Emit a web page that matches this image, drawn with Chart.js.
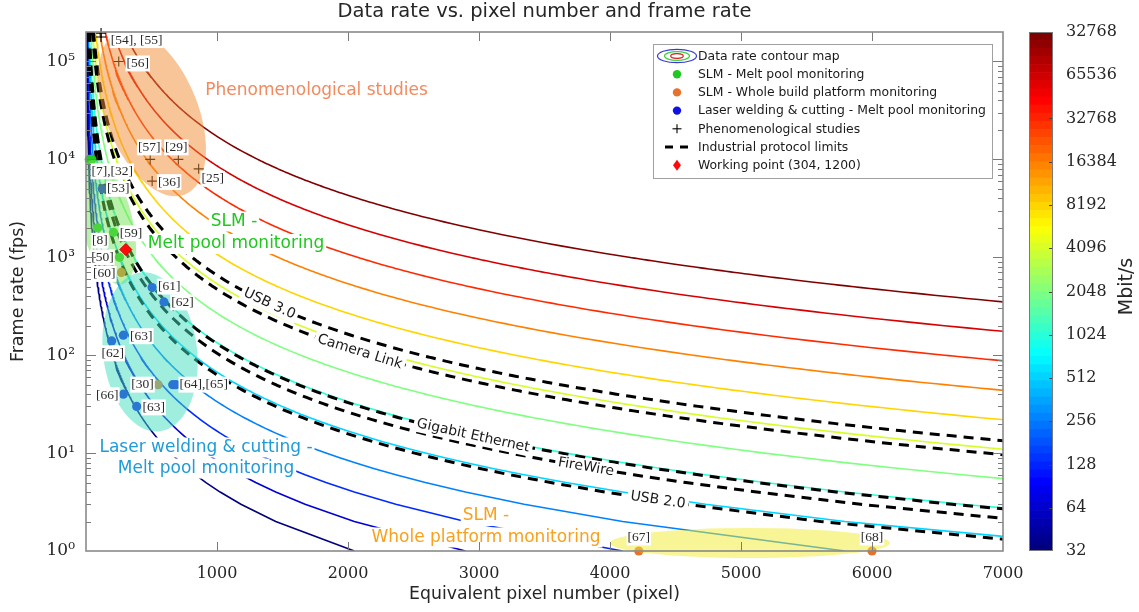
<!DOCTYPE html>
<html lang="en">
<head>
<meta charset="utf-8">
<title>Data rate vs. pixel number and frame rate</title>
<script src="https://cdn.jsdelivr.net/npm/chart.js"></script>
<style>
  html, body { margin: 0; padding: 0; background: #ffffff; }
  #figure { position: relative; width: 1139px; height: 612px; overflow: hidden; }
  #rateChart { position: absolute; left: 0; top: 0; }
  #rateBar { position: absolute; left: 1010px; top: 0; }
</style>
</head>
<body>
<div id="figure">
  <canvas id="rateChart" width="1139" height="612"></canvas>
  <canvas id="rateBar" width="129" height="612"></canvas>
</div>
<script>
// ---------------------------------------------------------------------------
// Data
// ---------------------------------------------------------------------------

// Contour levels of the data-rate map (Mbit/s)
const contourLevels = [32, 64, 128, 256, 512, 1024, 2048, 4096, 8192, 16384, 32768, 65536, 131072];
// Colour-bar tick labels, bottom to top
const colorbarLabels = ['32', '64', '128', '256', '512', '1024', '2048', '4096', '8192', '16384', '32768', '65536', '32768'];

// Industrial interface limits (Mbit/s)
const protocolNames = ['USB 3.0', 'Camera Link', 'Gigabit Ethernet', 'FireWire', 'USB 2.0'];
const protocolRates = [5000, 3600, 1000, 800, 480];

// SLM - melt pool monitoring
const slmMeltPixels = [25, 45, 90, 210, 255];
const slmMeltFps    = [10000, 10000, 2000, 1800, 1000];
const slmMeltRefs   = ['[7],[32]', '', '[8]', '[59]', '[50]'];

// SLM - whole build platform monitoring
const slmPlatformPixels = [270, 550, 4220, 6000];
const slmPlatformFps    = [700, 50, 1, 1];
const slmPlatformRefs   = ['[60]', '[30]', '[67]', '[68]'];

// Laser welding & cutting - melt pool monitoring
const weldingPixels = [124, 505, 595, 285, 196, 662, 687, 285, 387];
const weldingFps    = [5000, 490, 350, 160, 140, 50, 50, 40, 30];
const weldingRefs   = ['[53]', '[61]', '[62]', '[63]', '[62]', '[64],[65]', '', '[66]', '[63]'];

// Phenomenological studies
const phenoPixels = [115, 115, 250, 490, 705, 505, 860];
const phenoFps    = [195000, 178000, 100000, 10000, 10000, 6000, 8000];
const phenoRefs   = ['[54], [55]', '', '[56]', '[57]', '[29]', '[36]', '[25]'];

// Working point
const workingPixels = [304];
const workingFps    = [1200];

// Axis ticks
const xTickValues = [1000, 2000, 3000, 4000, 5000, 6000, 7000];
const yDecades = [0, 1, 2, 3, 4, 5];

// ---------------------------------------------------------------------------
// Data-rate relation: rate [Mbit/s] = N^2 * fps * bit depth / 2^20
// ---------------------------------------------------------------------------
const MBIT = 1048576;
const BIT_DEPTH = 8;
const pixelsAt = (rate, fps) => Math.sqrt(rate * MBIT / (BIT_DEPTH * fps));
const fpsAt = (rate, n) => rate * MBIT / (BIT_DEPTH * n * n);

// frame-rate rows the contours are traced on
const frameRows = [];
(function () {
  let f = 1;
  for (const [end, step] of [[100, 1], [1000, 10], [10000, 100], [100000, 1000], [300000, 10000]]) {
    for (; f < end; f += step) frameRows.push(f);
  }
  frameRows.push(300000);
  frameRows.reverse();
})();

// minor + major ticks of the log axis
const yTickValues = [];
yDecades.forEach(d => {
  const base = Math.pow(10, d);
  if (d === yDecades[yDecades.length - 1]) { yTickValues.push(base); return; }
  for (let m = 1; m <= 9; m++) yTickValues.push(m * base);
});

// ---------------------------------------------------------------------------
// Colours and fonts
// ---------------------------------------------------------------------------
function jet(t) {
  const c = v => Math.round(255 * Math.min(1, Math.max(0, v)));
  return `rgb(${c(1.5 - Math.abs(4 * t - 3))},${c(1.5 - Math.abs(4 * t - 2))},${c(1.5 - Math.abs(4 * t - 1))})`;
}
const C_SLM = '#22c822';
const C_PLATFORM = '#e8722c';
const C_WELD = '#1010e8';
const C_WORK = '#ff0a0a';
const TEXT = '#262626';
const SANS = '"DejaVu Sans", Verdana, sans-serif';
const SERIF = '"DejaVu Serif", serif';
const TAG_FONT = '13.5px "Liberation Serif", "Times New Roman", serif';

Chart.defaults.font.family = SANS;
Chart.defaults.color = TEXT;

const supDigits = ['⁰', '¹', '²', '³', '⁴', '⁵', '⁶', '⁷', '⁸', '⁹'];
function powerLabel(v) {
  const e = Math.log10(v);
  if (Math.abs(e - Math.round(e)) > 1e-9) return '';
  return '10' + String(Math.round(e)).split('').map(ch => supDigits[+ch]).join('');
}
const isPower10 = v => powerLabel(v) !== '';

// ---------------------------------------------------------------------------
// Datasets
// ---------------------------------------------------------------------------
const datasets = [];

contourLevels.forEach((rate, i) => {
  datasets.push({
    label: 'Data rate contour map',
    data: frameRows.map(f => ({ x: pixelsAt(rate, f), y: f })),
    showLine: true,
    borderColor: jet(i / (contourLevels.length - 1)),
    borderWidth: 1.6,
    pointRadius: 0,
    pointHoverRadius: 0,
    order: 10
  });
});

protocolRates.forEach((rate, i) => {
  datasets.push({
    label: protocolNames[i],
    data: frameRows.map(f => ({ x: pixelsAt(rate, f), y: f })),
    showLine: true,
    borderColor: '#000000',
    borderWidth: 3,
    borderDash: [10, 7],
    pointRadius: 0,
    pointHoverRadius: 0,
    order: 9
  });
});

function markerSet(label, xs, ys, style) {
  return Object.assign({
    label,
    data: xs.map((x, i) => ({ x, y: ys[i] })),
    showLine: false,
    clip: false,
    order: 5
  }, style);
}

const GROUP_SLM = datasets.length;
datasets.push(markerSet('SLM - Melt pool monitoring', slmMeltPixels, slmMeltFps,
  { pointStyle: 'circle', pointRadius: 4.6, backgroundColor: C_SLM, borderWidth: 0 }));
const GROUP_PLATFORM = datasets.length;
datasets.push(markerSet('SLM - Whole build platform monitoring', slmPlatformPixels, slmPlatformFps,
  { pointStyle: 'circle', pointRadius: 4.6, backgroundColor: C_PLATFORM, borderWidth: 0 }));
const GROUP_WELD = datasets.length;
datasets.push(markerSet('Laser welding & cutting - Melt pool monitoring', weldingPixels, weldingFps,
  { pointStyle: 'circle', pointRadius: 4.6, backgroundColor: C_WELD, borderWidth: 0 }));
const GROUP_PHENO = datasets.length;
datasets.push(markerSet('Phenomenological studies', phenoPixels, phenoFps,
  { pointStyle: 'cross', pointRadius: 5, borderColor: '#000000', borderWidth: 1.1 }));
const GROUP_WORK = datasets.length;
datasets.push(Object.assign(markerSet('Working point', workingPixels, workingFps,
  { pointStyle: 'rectRot', pointRadius: 6, backgroundColor: C_WORK, borderColor: '#d40000', borderWidth: 1 }),
  { order: 0 }));

// ---------------------------------------------------------------------------
// Annotation layer: application regions, labels, frame and legend
// ---------------------------------------------------------------------------
function boxedText(ctx, text, x, y, font, color, angle, pad) {
  ctx.save();
  ctx.translate(x, y);
  ctx.rotate(angle || 0);
  ctx.font = font;
  const w = ctx.measureText(text).width;
  const h = parseFloat(font) * 1.18;
  const p = pad === undefined ? 2 : pad;
  ctx.fillStyle = '#ffffff';
  ctx.fillRect(-w / 2 - p, -h / 2, w + 2 * p, h);
  ctx.fillStyle = color;
  ctx.textAlign = 'center';
  ctx.textBaseline = 'middle';
  ctx.fillText(text, 0, 0);
  ctx.restore();
}

const annotations = {
  id: 'annotations',
  beforeDatasetDraw(chart, args, opts) {
    if (args.index !== GROUP_WORK) return;
    const { ctx, chartArea: a, scales: { x, y } } = chart;
    ctx.save();
    ctx.beginPath();
    ctx.rect(a.left, a.top, a.right - a.left, a.bottom - a.top + 12);
    ctx.clip();
    opts.regions.forEach(r => {
      ctx.beginPath();
      ctx.ellipse(x.getPixelForValue(r.pixels), y.getPixelForValue(r.fps), r.rx, r.ry, r.angle * Math.PI / 180, 0, Math.PI * 2);
      ctx.fillStyle = r.color;
      ctx.fill();
    });
    ctx.restore();
  },
  afterDatasetsDraw(chart, args, opts) {
    const { ctx, scales: { x, y } } = chart;

    // reference tags next to the markers
    opts.tags.forEach(g => {
      const meta = chart.getDatasetMeta(g.dataset);
      g.refs.forEach((text, i) => {
        if (!text) return;
        const pt = meta.data[i];
        const [dx, dy] = g.offsets[i];
        boxedText(ctx, text, pt.x + dx, pt.y + dy, TAG_FONT, '#2a2a2a', 0, 1);
      });
    });

    // interface-limit names along their lines
    protocolNames.forEach((name, i) => {
      const n = opts.protocolLabelAt[i];
      const rate = protocolRates[i];
      const px = x.getPixelForValue(n), py = y.getPixelForValue(fpsAt(rate, n));
      const x1 = x.getPixelForValue(n - 30), y1 = y.getPixelForValue(fpsAt(rate, n - 30));
      const x2 = x.getPixelForValue(n + 30), y2 = y.getPixelForValue(fpsAt(rate, n + 30));
      boxedText(ctx, name, px, py, '14px ' + SANS, '#1a1a1a', Math.atan2(y2 - y1, x2 - x1), 3);
    });

    // application region names
    opts.regionLabels.forEach(l => {
      boxedText(ctx, l.text, x.getPixelForValue(l.pixels), y.getPixelForValue(l.fps), '17px ' + SANS, l.color, 0, 2);
    });
  },
  afterDraw(chart, args, opts) {
    const { ctx, chartArea: a, scales: { x, y } } = chart;
    ctx.save();
    // inward tick marks on all four sides
    ctx.strokeStyle = '#7a7a7a';
    ctx.lineWidth = 1;
    const seg = (x1, y1, x2, y2) => { ctx.beginPath(); ctx.moveTo(x1, y1); ctx.lineTo(x2, y2); ctx.stroke(); };
    y.ticks.forEach(t => {
      if (t.value <= y.min || t.value >= y.max) return;
      const p = Math.round(y.getPixelForValue(t.value)) + 0.5;
      const len = isPower10(t.value) ? 10 : 5;
      seg(a.left, p, a.left + len, p);
      seg(a.right, p, a.right - len, p);
    });
    x.ticks.forEach(t => {
      if (t.value <= x.min || t.value >= x.max) return;
      const p = Math.round(x.getPixelForValue(t.value)) + 0.5;
      seg(p, a.bottom, p, a.bottom - 9);
      seg(p, a.top, p, a.top + 9);
    });
    ctx.lineWidth = 1.6;
    ctx.strokeStyle = '#8a8a8a';
    ctx.strokeRect(a.left, a.top, a.right - a.left, a.bottom - a.top);

    // legend
    const L = { left: a.right - 350, top: a.top + 12, w: 339, h: 134 };
    ctx.fillStyle = '#ffffff';
    ctx.fillRect(L.left, L.top, L.w, L.h);
    ctx.lineWidth = 1;
    ctx.strokeStyle = '#a0a0a0';
    ctx.strokeRect(L.left + 0.5, L.top + 0.5, L.w, L.h);
    const ix = L.left + 24, tx = L.left + 45;
    opts.legend.forEach((item, k) => {
      const cy = L.top + 12 + k * 18.2;
      ctx.save();
      if (item.kind === 'contour') {
        [[19.5, 6.7, '#3a3ad8'], [12.5, 4.4, '#3fd23f'], [6.3, 2.3, '#d42020']].forEach(([rx, ry, c]) => {
          ctx.beginPath(); ctx.ellipse(ix, cy, rx, ry, 0, 0, Math.PI * 2);
          ctx.strokeStyle = c; ctx.lineWidth = 1.2; ctx.stroke();
        });
      } else if (item.kind === 'dot') {
        ctx.beginPath(); ctx.arc(ix, cy, 4.2, 0, Math.PI * 2); ctx.fillStyle = item.color; ctx.fill();
      } else if (item.kind === 'cross') {
        ctx.strokeStyle = '#000'; ctx.lineWidth = 1.1;
        seg(ix - 4.5, cy, ix + 4.5, cy); seg(ix, cy - 4.5, ix, cy + 4.5);
      } else if (item.kind === 'dash') {
        ctx.strokeStyle = '#000'; ctx.lineWidth = 3;
        seg(ix - 12, cy, ix - 4, cy); seg(ix + 3, cy, ix + 11, cy);
      } else if (item.kind === 'diamond') {
        ctx.beginPath();
        ctx.moveTo(ix, cy - 5.5); ctx.lineTo(ix + 4, cy); ctx.lineTo(ix, cy + 5.5); ctx.lineTo(ix - 4, cy); ctx.closePath();
        ctx.fillStyle = item.color; ctx.fill();
      }
      ctx.restore();
      ctx.fillStyle = '#1a1a1a';
      ctx.font = '12.4px ' + SANS;
      ctx.textAlign = 'left';
      ctx.textBaseline = 'middle';
      ctx.fillText(item.text, tx, cy + 0.5);
    });
    ctx.restore();
  }
};

// ---------------------------------------------------------------------------
// Main chart
// ---------------------------------------------------------------------------
new Chart(document.getElementById('rateChart'), {
  type: 'scatter',
  data: { datasets },
  plugins: [annotations],
  options: {
    responsive: false,
    animation: false,
    events: [],
    layout: { padding: { left: 0, right: 136, top: 0, bottom: 0 } },
    elements: { line: { tension: 0 } },
    scales: {
      x: {
        type: 'linear', min: 0, max: 7000,
        afterBuildTicks: s => { s.ticks = xTickValues.map(v => ({ value: v })); },
        afterFit: s => { s.height = 61; },
        grid: { display: false },
        border: { display: false },
        ticks: { autoSkip: false, maxRotation: 0, padding: 5, color: TEXT,
                 font: { family: SERIF, size: 16 }, callback: v => String(v) },
        title: { display: true, text: 'Equivalent pixel number (pixel)', color: TEXT,
                 font: { family: SANS, size: 17.3 }, padding: { top: 0, bottom: 7.5 } }
      },
      y: {
        type: 'logarithmic', min: 1, max: 200000,
        afterBuildTicks: s => { s.ticks = yTickValues.map(v => ({ value: v })); },
        afterFit: s => { s.width = 86; },
        grid: { display: false },
        border: { display: false },
        ticks: { autoSkip: false, padding: 3, color: TEXT,
                 font: { family: SERIF, size: 17 }, callback: v => powerLabel(v) },
        title: { display: true, text: 'Frame rate (fps)', color: TEXT,
                 font: { family: SANS, size: 17.5 }, padding: { top: 7.5, bottom: 0 } }
      }
    },
    plugins: {
      legend: { display: false },
      tooltip: { enabled: false },
      title: {
        display: true, fullSize: false,
        text: 'Data rate vs. pixel number and frame rate',
        color: TEXT, font: { family: SANS, size: 19.5, weight: 'normal' },
        padding: { top: 0, bottom: 8.6 }
      },
      annotations: {
        regions: [
          { pixels: 504,  fps: 29800, rx: 88,  ry: 46,   angle: 68,   color: 'rgba(241,140,52,0.5)' },
          { pixels: 160,  fps: 2295,  rx: 64,  ry: 25.6, angle: 76.5, color: 'rgba(115,225,85,0.5)' },
          { pixels: 489,  fps: 108,   rx: 80,  ry: 47,   angle: 83,   color: 'rgba(65,222,190,0.5)' },
          { pixels: 5069, fps: 1.207, rx: 140, ry: 15,   angle: 0,    color: 'rgba(241,235,45,0.5)' }
        ],
        regionLabels: [
          { text: 'Phenomenological studies', pixels: 1760, fps: 50500, color: '#f38a5f' },
          { text: 'SLM -', pixels: 1130, fps: 2321, color: '#1ec81e' },
          { text: 'Melt pool monitoring', pixels: 1145, fps: 1368, color: '#1ec81e' },
          { text: 'Laser welding & cutting -', pixels: 916, fps: 11.4, color: '#1f9bd8' },
          { text: 'Melt pool monitoring', pixels: 916, fps: 6.96, color: '#1f9bd8' },
          { text: 'SLM -', pixels: 3053, fps: 2.276, color: '#f9a11c' },
          { text: 'Whole platform monitoring', pixels: 3053, fps: 1.374, color: '#f9a11c' }
        ],
        protocolLabelAt: [1400, 2090, 2955, 3817, 4366],
        tags: [
          { dataset: GROUP_PHENO, refs: phenoRefs,
            offsets: [[35.5, 7], null, [19, 2], [-1, -12], [-2, -12], [17, 1], [14, 10]] },
          { dataset: GROUP_SLM, refs: slmMeltRefs,
            offsets: [[23, 12], null, [2, 13], [17.5, 1], [-17, 0]] },
          { dataset: GROUP_PLATFORM, refs: slmPlatformRefs,
            offsets: [[-17, 1.5], [-15.5, 0], [0, -13.5], [0, -13.5]] },
          { dataset: GROUP_WELD, refs: weldingRefs,
            offsets: [[16, 0], [17, -1], [18.5, 0.5], [18, 1], [1, 12.5], [31, 0], null, [-16, 1], [17, 1]] }
        ],
        legend: [
          { kind: 'contour', text: 'Data rate contour map' },
          { kind: 'dot', color: C_SLM, text: 'SLM - Melt pool monitoring' },
          { kind: 'dot', color: C_PLATFORM, text: 'SLM - Whole build platform monitoring' },
          { kind: 'dot', color: C_WELD, text: 'Laser welding & cutting - Melt pool monitoring' },
          { kind: 'cross', text: 'Phenomenological studies' },
          { kind: 'dash', text: 'Industrial protocol limits' },
          { kind: 'diamond', color: C_WORK, text: `Working point (${workingPixels[0]}, ${workingFps[0]})` }
        ]
      }
    }
  }
});

// ---------------------------------------------------------------------------
// Colour bar (log2 of the data rate)
// ---------------------------------------------------------------------------
const log2Min = Math.log2(contourLevels[0]);
const log2Max = Math.log2(contourLevels[contourLevels.length - 1]);
const BAND_COUNT = 64;
const bandDatasets = [];
for (let k = 0; k < BAND_COUNT; k++) {
  const lo = log2Min + (log2Max - log2Min) * k / BAND_COUNT;
  const hi = log2Min + (log2Max - log2Min) * (k + 1) / BAND_COUNT;
  bandDatasets.push({ data: [[lo, hi]], backgroundColor: jet(k / (BAND_COUNT - 1)), borderWidth: 0 });
}
const colorbarTicks = contourLevels.map(v => Math.log2(v));

const colorbarFrame = {
  id: 'colorbarFrame',
  afterDraw(chart) {
    const { ctx, chartArea: a, scales: { y } } = chart;
    ctx.save();
    ctx.strokeStyle = '#444';
    ctx.lineWidth = 1;
    y.ticks.forEach(t => {
      if (t.value <= y.min || t.value >= y.max) return;
      const p = Math.round(y.getPixelForValue(t.value)) + 0.5;
      ctx.beginPath(); ctx.moveTo(a.right, p); ctx.lineTo(a.right - 4, p); ctx.stroke();
    });
    ctx.strokeStyle = '#7a7a7a';
    ctx.strokeRect(a.left + 0.5, a.top + 0.5, a.right - a.left - 1, a.bottom - a.top - 1);
    // unit label, reading upwards
    ctx.translate(117, (a.top + a.bottom) / 2 - 5);
    ctx.rotate(-Math.PI / 2);
    ctx.font = '19px ' + SANS;
    ctx.fillStyle = TEXT;
    ctx.textAlign = 'center';
    ctx.textBaseline = 'middle';
    ctx.fillText('Mbit/s', 0, 0);
    ctx.restore();
  }
};

new Chart(document.getElementById('rateBar'), {
  type: 'bar',
  data: { labels: ['rate'], datasets: bandDatasets },
  plugins: [colorbarFrame],
  options: {
    responsive: false,
    animation: false,
    events: [],
    layout: { padding: { left: 19, right: 0, top: 32, bottom: 61 } },
    datasets: { bar: { grouped: false, barPercentage: 1, categoryPercentage: 1 } },
    scales: {
      x: { display: false },
      y: {
        position: 'right', min: log2Min, max: log2Max,
        afterBuildTicks: s => { s.ticks = colorbarTicks.map(v => ({ value: v })); },
        afterFit: s => { s.width = 86; },
        grid: { display: false },
        border: { display: false },
        ticks: { autoSkip: false, padding: 5, color: TEXT, font: { family: SERIF, size: 16 },
                 callback: (v, i) => colorbarLabels[i] }
      }
    },
    plugins: { legend: { display: false }, tooltip: { enabled: false } }
  }
});
</script>
</body>
</html>
